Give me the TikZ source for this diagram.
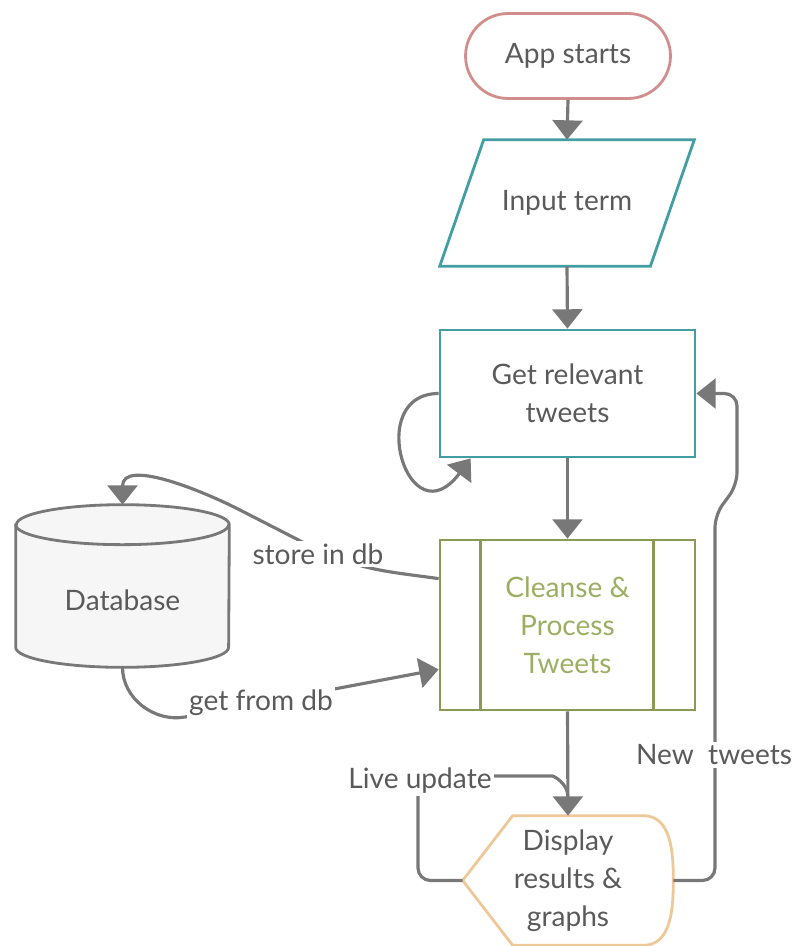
\documentclass[tikz,border=0pt]{standalone}
\usepackage{fontspec}
\setmainfont{Lato}
\usetikzlibrary{shapes.geometric,shapes.misc,arrows.meta,calc}
\definecolor{startc}{HTML}{D08E8C}
\definecolor{tealc}{HTML}{429EA2}
\definecolor{olivec}{HTML}{8A9A55}
\definecolor{olivet}{HTML}{9CAE62}
\definecolor{dispc}{HTML}{EEC898}
\definecolor{linec}{HTML}{787878}
\definecolor{txtc}{HTML}{5A5A5A}
\definecolor{dbfill}{HTML}{F6F6F6}
\begin{document}
\begin{tikzpicture}[x=0.02cm,y=-0.02cm,
	every node/.style={font=\fontsize{16}{21.5}\selectfont,text=txtc,align=center,inner sep=2pt},
	conn/.style={draw=linec,line width=1.8pt,-{Triangle[width=17pt,length=11pt]}},
	link/.style={draw=linec,line width=1.8pt},
	lbl/.style={fill=white,inner sep=1.5pt},
	box/.style={draw=tealc,line width=1.6pt,fill=white,minimum width=5.1cm,minimum height=2.54cm}]
\useasboundingbox (0,0) rectangle (793,946);
\node[rounded rectangle,draw=startc,line width=1.6pt,minimum width=4.24cm,minimum height=1.7cm] (start) at (568,56) {App starts};
\node[minimum width=5.08cm,minimum height=2.52cm] (input) at (567,203) {Input term};
\draw[tealc,line width=1.6pt] ($(input.north west)+(44,0)$) -- (input.north east)
	-- ($(input.south east)+(-44,0)$) -- (input.south west) -- cycle;
\node[box] (get) at (567.5,393.5) {Get relevant\\tweets};
\node[draw=olivec,line width=1.6pt,fill=white,minimum width=5.1cm,minimum height=3.4cm,text=olivet] (clean) at (567.5,625) {Cleanse \&\\Process\\Tweets};
\draw[olivec,line width=1.6pt] ($(clean.north west)+(42,0)$) -- ($(clean.south west)+(42,0)$)
	($(clean.north east)+(-43,0)$) -- ($(clean.south east)+(-43,0)$);
\node[minimum width=4.2cm,minimum height=2.58cm] (disp) at (568,880.5) {Display\\results \&\\graphs};
\draw[dispc,line width=1.6pt] (disp.west) -- ($(disp.north west)+(50,0)$) -- ($(disp.north east)+(-30,0)$)
	to[out=0,in=90] (disp.east) to[out=-90,in=0] ($(disp.south east)+(-30,0)$) -- ($(disp.south west)+(50,0)$) -- cycle;
\node[minimum width=4.26cm,minimum height=3.24cm] (db) at (122.5,586) {};
\draw[linec,fill=dbfill,line width=1.6pt] ($(db.north west)+(0,20)$) -- ($(db.south west)+(0,-20)$)
	arc[start angle=180,end angle=360,x radius=2.13cm,y radius=0.4cm] -- ($(db.north east)+(0,20)$)
	arc[start angle=0,end angle=180,x radius=2.13cm,y radius=0.4cm] -- cycle;
\draw[linec,line width=1.6pt] ($(db.north west)+(0,20)$) arc[start angle=180,end angle=360,x radius=2.13cm,y radius=0.4cm];
\node (dbtext) at ($(db.center)+(0,14)$) {Database};
\coordinate (lu) at (418,776);
\coordinate (nt1) at (715,515);
\coordinate (nt2) at (737,485);
\coordinate (s1) at (318,550);
\coordinate (s2) at (240,510);
\coordinate (g1) at (185,717);
\draw[conn] (start.south) -- (input.north);
\draw[conn] (input.south) -- (get.north);
\draw[conn] (get.south) -- (clean.north);
\draw[conn] (clean.south) -- (disp.north);
\draw[conn] (get.west) .. controls +(-75,0) and +(-62,83) .. ($(get.south west)+(32,0)$);
\draw[link,rounded corners=0.25cm] (disp.west) -| (lu) -- ++(122,0) to[out=0,in=90] ($(clean.south)!0.82!(disp.north)$);
\draw[conn,rounded corners=0.25cm] (disp.east) -| (nt1) -- (nt2) |- (get.east);
\draw[conn] ($(clean.north west)+(0,40)$) to[out=172,in=-25] (s1) -- (s2) to[out=153,in=90] (db.north);
\draw[conn] (db.south) to[out=-90,in=190] (g1) -- ($(clean.south west)+(0,-42)$);
\node[lbl] at (420,781) {Live update};
\node[lbl] at (714,755) {New\ \ tweets};
\node[lbl] at (318,554) {store in db};
\node[lbl] at (261,703) {get from db};
\end{tikzpicture}
\end{document}
